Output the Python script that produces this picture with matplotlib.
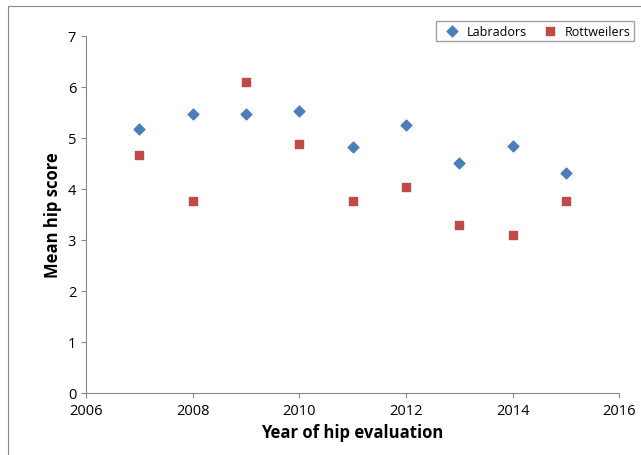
import matplotlib.pyplot as plt

years = [2007, 2008, 2009, 2010, 2011, 2012, 2013, 2014, 2015]
labradors = [5.18, 5.47, 5.47, 5.53, 4.82, 5.25, 4.51, 4.84, 4.31]
rottweilers = [4.67, 3.76, 6.10, 4.88, 3.76, 4.04, 3.29, 3.10, 3.76]

plt.rcParams['font.family'] = ['Open Sans', 'DejaVu Sans']
fig = plt.figure(figsize=(6.41, 4.56), dpi=100)
ax = fig.add_axes([0.134, 0.136, 0.832, 0.783])

ax.scatter(years, labradors, marker='D', s=30, color='#4a7ebb', label='Labradors', zorder=3)
ax.scatter(years, rottweilers, marker='s', s=40, color='#be4b48', label='Rottweilers', zorder=3)

ax.set_xlim(2006, 2016)
ax.set_ylim(0, 7)
ax.set_xticks(range(2006, 2017, 2))
ax.set_yticks(range(0, 8))
ax.tick_params(labelsize=10.5, color='#888888')
for side in ['top', 'right']:
    ax.spines[side].set_visible(False)
for side in ['left', 'bottom']:
    ax.spines[side].set_color('#888888')

ax.set_xlabel('Year of hip evaluation', fontsize=12, fontweight='bold')
ax.set_ylabel('Mean hip score', fontsize=12, fontweight='bold')

leg = ax.legend(loc='upper right', bbox_to_anchor=(1.04, 1.06), ncol=2, fontsize=9,
                frameon=True, fancybox=False, edgecolor='#888888',
                handletextpad=0.2, columnspacing=0.8, borderpad=0.3)

border = plt.Rectangle((0.012, -0.01), 1.0, 0.995, transform=fig.transFigure,
                       fill=False, edgecolor='#888888', lw=0.8)
fig.patches.append(border)

fig.savefig('out.png', dpi=100)
